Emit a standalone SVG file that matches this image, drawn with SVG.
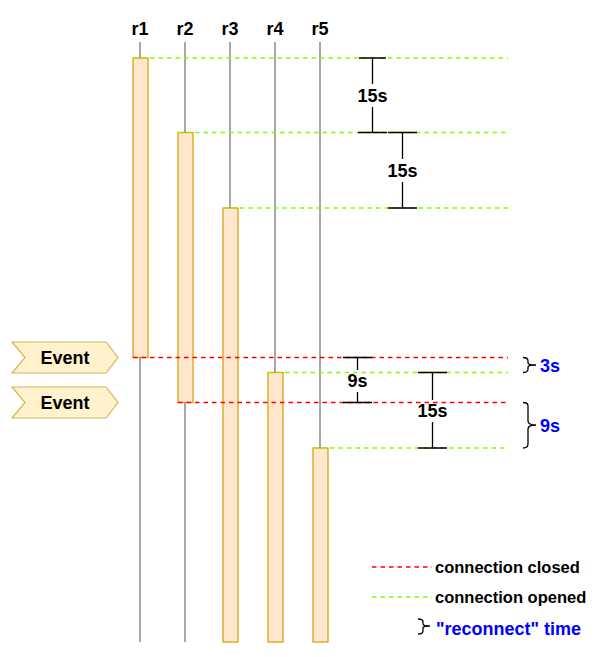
<svg xmlns="http://www.w3.org/2000/svg" width="600" height="657" viewBox="0 0 600 657">
<style>
.life{stroke:#8a8a8a;stroke-width:1.5;fill:none}
.act{fill:#ffe6cc;stroke:#d79b00;stroke-width:1.2}
.closed{stroke:#ff0000;stroke-width:1.5;stroke-dasharray:4.5 4;fill:none}
.opened{stroke:#80ff00;stroke-width:1.5;stroke-dasharray:4.5 4;fill:none}
.dim{stroke:#000;stroke-width:1.3;fill:none}
.brace{stroke:#000;stroke-width:1.3;fill:none}
.dt{font-family:"Liberation Sans",Arial,sans-serif;font-weight:bold;font-size:18px;fill:#000;text-anchor:middle}
.blue{font-family:"Liberation Sans",Arial,sans-serif;font-weight:bold;font-size:18px;fill:#0000ff}
.lg{font-family:"Liberation Sans",Arial,sans-serif;font-weight:bold;font-size:16.5px;fill:#000}
.ev{fill:#fff2cc;stroke:#d6b656;stroke-width:1.2}
</style>
<g id="r1"><text class="dt" x="140" y="35">r1</text><line class="life" x1="140" y1="42" x2="140" y2="642"/><rect class="act" x="133" y="58" width="15" height="299.5"/></g>
<g id="r2"><text class="dt" x="185" y="35">r2</text><line class="life" x1="185" y1="42" x2="185" y2="642"/><rect class="act" x="178" y="132.5" width="15" height="270"/></g>
<g id="r3"><text class="dt" x="230" y="35">r3</text><line class="life" x1="230" y1="42" x2="230" y2="642"/><rect class="act" x="223" y="208" width="15" height="434"/></g>
<g id="r4"><text class="dt" x="275" y="35">r4</text><line class="life" x1="275" y1="42" x2="275" y2="642"/><rect class="act" x="268" y="372.5" width="15" height="269.5"/></g>
<g id="r5"><text class="dt" x="320" y="35">r5</text><line class="life" x1="320" y1="42" x2="320" y2="642"/><rect class="act" x="313" y="448" width="15" height="194"/></g>
<g id="connectors">
<line class="opened" x1="133" y1="58" x2="508" y2="58"/>
<line class="opened" x1="178" y1="132.5" x2="508" y2="132.5"/>
<line class="opened" x1="223" y1="208" x2="508" y2="208"/>
<line class="closed" x1="133" y1="357.5" x2="508" y2="357.5"/>
<line class="opened" x1="268" y1="372.5" x2="508" y2="372.5"/>
<line class="closed" x1="178" y1="402.5" x2="508" y2="402.5"/>
<line class="opened" x1="313" y1="448" x2="508" y2="448"/>
</g>
<g id="dim1"><path class="dim" d="M359 58H386M372.5 58V84M372.5 107V132.5M358 132.5H387"/><text class="dt" x="372.5" y="102">15s</text></g>
<g id="dim2"><path class="dim" d="M388 132.5H417M402.5 132.5V159M402.5 182V208M388 208H417"/><text class="dt" x="402.5" y="177">15s</text></g>
<g id="dim3"><path class="dim" d="M343 357.5H372M357.5 357.5V370M357.5 392V402.5M343 402.5H372"/><text class="dt" x="357.5" y="387">9s</text></g>
<g id="dim4"><path class="dim" d="M418 372.5H447M432.5 372.5V400M432.5 422V448M418 448H447"/><text class="dt" x="432.5" y="417">15s</text></g>
<g id="brace1"><path class="brace" d="M523 357.5Q528 357.5 528 361V363Q528 365 536 365Q528 365 528 367V369Q528 372.5 523 372.5"/><text class="blue" x="540" y="372">3s</text></g>
<g id="brace2"><path class="brace" d="M523 402.5Q528 402.5 528 406V421Q528 425 536 425Q528 425 528 429V444Q528 448 523 448"/><text class="blue" x="540" y="432">9s</text></g>
<g id="event1"><path class="ev" d="M12 342H106L118 357.5L106 373H12L25 357.5Z"/><text class="dt" x="65" y="364">Event</text></g>
<g id="event2"><path class="ev" d="M12 387H106L118 402.5L106 418H12L25 402.5Z"/><text class="dt" x="65" y="409">Event</text></g>
<g id="legend">
<line class="closed" x1="372" y1="567" x2="432" y2="567"/>
<text class="lg" x="435" y="573">connection closed</text>
<line class="opened" x1="372" y1="597" x2="432" y2="597"/>
<text class="lg" x="435" y="603">connection opened</text>
<path class="brace" d="M418 619Q423 619 423 622V624Q423 626 430 626Q423 626 423 628V631Q423 634 418 634"/>
<text class="blue" x="436" y="635">"reconnect" time</text>
</g>
</svg>
